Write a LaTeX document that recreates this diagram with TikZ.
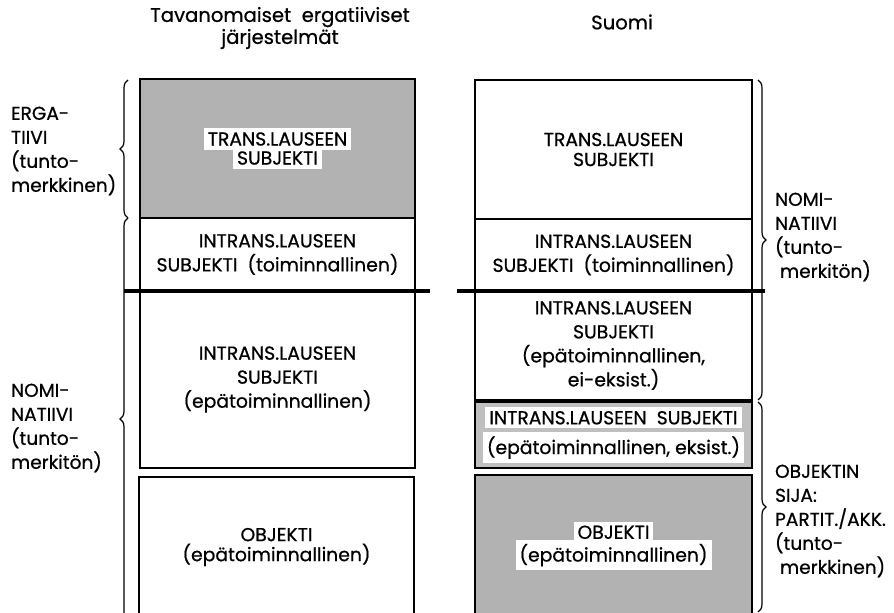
\documentclass[tikz,border=0pt]{standalone}
\usepackage{fontspec}
\setmainfont{Poppins}[FakeBold=0.7]
\usetikzlibrary{decorations.pathreplacing}

\newcommand{\boxlw}{0.8pt}
\newcommand{\wbox}{\node[draw, line width=\boxlw, align=center, inner sep=0pt]}
\newcommand{\gbox}{\node[draw, line width=\boxlw, fill=black!30, align=center, inner sep=0pt]}
\newcommand{\hl}[1]{{\setlength{\fboxsep}{2pt}\colorbox{white}{#1}}}
\newcommand{\brc}{\draw[line width=0.6pt, decorate, decoration={brace, amplitude=4pt}]}
\newcommand{\sidefont}{\fontsize{9.3}{12}\selectfont}

\begin{document}
\begin{tikzpicture}[x=0.5pt, y=-0.5pt, font=\fontsize{9.4}{12}\selectfont]
            \clip (0,0) rectangle (894,613);

            % headers
            \node[align=center, font=\fontsize{9.8}{11}\selectfont] (hleft) at (280,28) {Tavanomaiset\ \ ergatiiviset\\järjestelmät};
            \node[font=\fontsize{9.8}{11}\selectfont] (hright) at (622,22) {Suomi};

            % left column
            \gbox[minimum width=137.5pt, minimum height=69.5pt] (l1) at (277.5,148.5)
                {\hl{TRANS.LAUSEEN}\\[-2.5pt]\hl{SUBJEKTI}};
            \wbox[minimum width=137.5pt, minimum height=36.5pt] (l2) at (277.5,254.5)
                {INTRANS.LAUSEEN\\SUBJEKTI\ \ (toiminnallinen)};
            \wbox[minimum width=137.5pt, minimum height=88.5pt] (l3) at (277.5,379.5)
                {INTRANS.LAUSEEN\\SUBJEKTI\\(epätoiminnallinen)};
            \wbox[minimum width=137.5pt, minimum height=70pt] (l4) at (276.5,547)
                {OBJEKTI\\[-2pt](epätoiminnallinen)};

            % right column
            \wbox[minimum width=138.5pt, minimum height=69.5pt] (r1) at (613.5,149.5)
                {TRANS.LAUSEEN\\[-2pt]SUBJEKTI};
            \wbox[minimum width=138.5pt, minimum height=36pt] (r2) at (613.5,255)
                {INTRANS.LAUSEEN\\SUBJEKTI\ \ (toiminnallinen)};
            \wbox[minimum width=138.5pt, minimum height=54.5pt] (r3) at (613.5,345.5)
                {INTRANS.LAUSEEN\\SUBJEKTI\\(epätoiminnallinen,\\ei-eksist.)};
            \gbox[minimum width=138.5pt, minimum height=33pt, fill=black!25] (r4) at (613.5,435)
                {\hl{INTRANS.LAUSEEN\ \ SUBJEKTI}\\[1pt]\hl{(epätoiminnallinen, eksist.)}};
            \gbox[minimum width=138.5pt, minimum height=71pt] (r5) at (613.5,546)
                {\hl{OBJEKTI}\\[-2.5pt]\hl{(epätoiminnallinen)}};

            % thick dividers
            \draw[line width=2pt]
                (124,291) -- (430,291)
                (457,291) -- (765,291)
                ;

            % braces
            \brc (128,218) -- (128,80);
            \brc (128,620) -- (128,218);
            \brc (758,80) -- (758,400);
            \brc (758,402) -- (758,612);

            % case labels
            \node[anchor=west, align=left, font=\sidefont] (erg) at (4,151)
                {ERGA-\\TIIVI\\(tunto-\\merkkinen)};
            \node[anchor=west, align=left, font=\sidefont] (noml) at (4,428)
                {NOMI-\\NATIIVI\\(tunto-\\merkitön)};
            \node[anchor=west, align=left, font=\sidefont] (nomr) at (768,237)
                {NOMI-\\NATIIVI\\(tunto-\\\ merkitön)};
            \node[anchor=west, align=left, font=\sidefont] (obj) at (768,521)
                {OBJEKTIN\\SIJA:\\PARTIT./AKK.\\(tunto-\\\ merkkinen)};
\end{tikzpicture}
\end{document}
